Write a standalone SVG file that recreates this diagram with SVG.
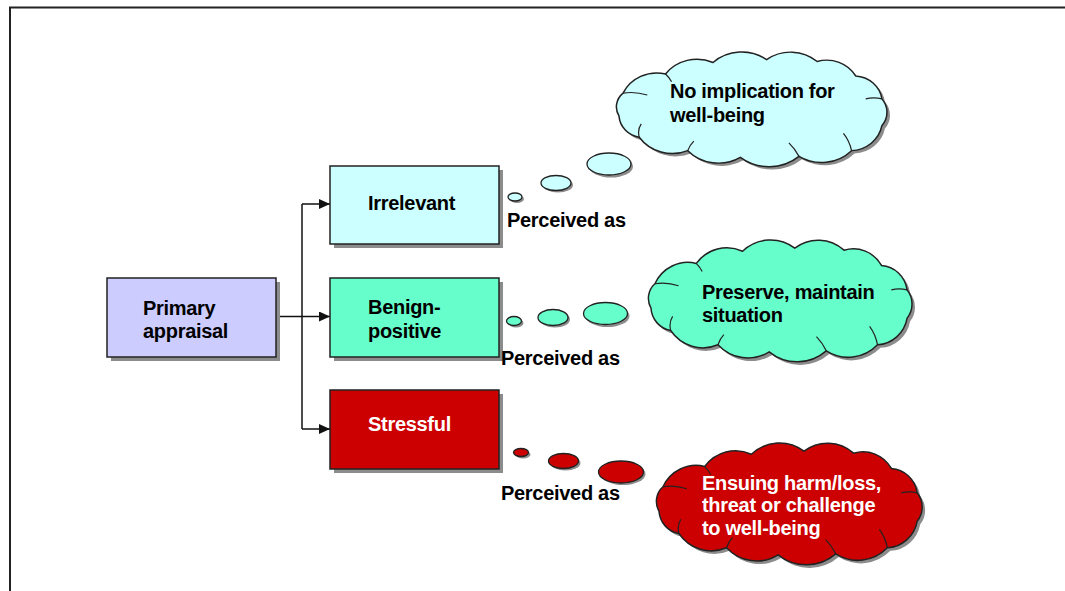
<svg xmlns="http://www.w3.org/2000/svg" xmlns:xlink="http://www.w3.org/1999/xlink" width="1065" height="591" viewBox="0 0 1065 591">
  <style>
    .lbl { font-family: "Liberation Sans", Arial, sans-serif; font-weight: bold; font-size: 20px; letter-spacing: -0.3px; fill: #000; }
    .white { fill: #fff; }
    .box { stroke: #222; stroke-width: 1.5; }
    .shadow { fill: #8c8c8c; }
    .cloud { stroke: #222; stroke-width: 1.5; }
    .curl { fill: none; stroke: #222; stroke-width: 1.2; }
    .bub { stroke: #222; stroke-width: 1.3; }
    .conn { fill: none; stroke: #111; stroke-width: 1.5; }
    .lav { fill: #ccccff; }
    .cyan { fill: #ccffff; }
    .mint { fill: #66ffcc; }
    .red { fill: #cc0000; }
  </style>
  <defs>
    <marker id="arrow" markerUnits="userSpaceOnUse" markerWidth="12" markerHeight="10" refX="11" refY="5" orient="auto">
      <path d="M0,0 L11,5 L0,10 Z" fill="#111"/>
    </marker>
    <!-- cloud outline in a local ~269x120 box -->
    <path id="cloudShape" d="M6,44 A37,37 0 0 1 48,24 A39,39 0 0 1 95,12 A42,42 0 0 1 148,9 A40,40 0 0 1 198,11 A33,33 0 0 1 236,26 A28,28 0 0 1 262,50 A22,22 0 0 1 262,78 A32,32 0 0 1 232,104 A42,42 0 0 1 180,110 A46,46 0 0 1 122,111 A42,42 0 0 1 70,104 A40,40 0 0 1 22,90 A24,24 0 0 1 2,68 A19,19 0 0 1 6,44 Z"/>
    <path id="cloudCurls" d="M6,44 Q18,42 30,46 M48,24 Q52,28 54,32 M262,50 Q254,48 246,50 M232,104 Q230,94 224,86 M180,110 Q176,102 170,96 M70,104 Q72,98 76,94 M22,90 Q20,82 24,76"/>
  </defs>

  <!-- page frame -->
  <path d="M10,591 V7.5 H1065" fill="none" stroke="#222" stroke-width="2"/>

  <!-- connectors -->
  <g id="connectors">
    <path class="conn" d="M276,316.5 H330" marker-end="url(#arrow)"/>
    <path class="conn" d="M302,204 V429"/>
    <path class="conn" d="M302,204 H330" marker-end="url(#arrow)"/>
    <path class="conn" d="M302,429 H330" marker-end="url(#arrow)"/>
  </g>

  <g id="primary">
    <rect class="shadow" x="111" y="282" width="169" height="79"/>
    <rect class="box lav" x="107" y="278" width="169" height="79"/>
    <text class="lbl" x="143" y="315">Primary</text>
    <text class="lbl" x="143" y="338">appraisal</text>
  </g>

  <g id="irrelevant">
    <rect class="shadow" x="334" y="170" width="169" height="78"/>
    <rect class="box cyan" x="330" y="166" width="169" height="78"/>
    <text class="lbl" x="368" y="210">Irrelevant</text>
  </g>

  <g id="benign">
    <rect class="shadow" x="334" y="282" width="169" height="79"/>
    <rect class="box mint" x="330" y="278" width="169" height="79"/>
    <text class="lbl" x="368" y="314">Benign-</text>
    <text class="lbl" x="368" y="337.5">positive</text>
  </g>

  <g id="stressful">
    <rect class="shadow" x="334" y="394" width="169" height="79"/>
    <rect class="box red" x="330" y="390" width="169" height="79"/>
    <text class="lbl white" x="368" y="431">Stressful</text>
  </g>

  <!-- thought: irrelevant -->
  <g id="thought-irrelevant">
    <ellipse class="shadow" cx="517" cy="199" rx="7" ry="4"/>
    <ellipse class="bub cyan" cx="515" cy="197" rx="7" ry="4"/>
    <ellipse class="shadow" cx="558" cy="185" rx="15" ry="7.5"/>
    <ellipse class="bub cyan" cx="556" cy="183" rx="15" ry="7.5"/>
    <ellipse class="shadow" cx="611" cy="166.5" rx="22" ry="11"/>
    <ellipse class="bub cyan" cx="609" cy="164" rx="22" ry="11"/>
    <g transform="translate(617,51) scale(1.011,0.958)">
      <use xlink:href="#cloudShape" class="shadow" transform="translate(3,3)"/>
      <use xlink:href="#cloudShape" class="cloud cyan"/>
      <use xlink:href="#cloudCurls" class="curl"/>
    </g>
    <text class="lbl" x="670" y="98">No implication for</text>
    <text class="lbl" x="670" y="121.5">well-being</text>
    <text class="lbl" x="507" y="227">Perceived as</text>
  </g>

  <!-- thought: benign-positive -->
  <g id="thought-benign">
    <ellipse class="shadow" cx="516" cy="323" rx="7.5" ry="4.5"/>
    <ellipse class="bub mint" cx="514" cy="321" rx="7.5" ry="4.5"/>
    <ellipse class="shadow" cx="555" cy="319.5" rx="15" ry="8"/>
    <ellipse class="bub mint" cx="553" cy="317.5" rx="15" ry="8"/>
    <ellipse class="shadow" cx="607.5" cy="316" rx="22" ry="11"/>
    <ellipse class="bub mint" cx="605.5" cy="313.5" rx="22" ry="11"/>
    <g transform="translate(649,239) scale(0.985,1.017)">
      <use xlink:href="#cloudShape" class="shadow" transform="translate(3,3)"/>
      <use xlink:href="#cloudShape" class="cloud mint"/>
      <use xlink:href="#cloudCurls" class="curl"/>
    </g>
    <text class="lbl" x="702" y="299">Preserve, maintain</text>
    <text class="lbl" x="702" y="322">situation</text>
    <text class="lbl" x="501" y="365">Perceived as</text>
  </g>

  <!-- thought: stressful -->
  <g id="thought-stressful">
    <ellipse class="shadow" cx="523" cy="454.5" rx="7.5" ry="4"/>
    <ellipse class="bub red" cx="521" cy="452.5" rx="7.5" ry="4"/>
    <ellipse class="shadow" cx="565.5" cy="463" rx="15" ry="7.5"/>
    <ellipse class="bub red" cx="563.5" cy="461" rx="15" ry="7.5"/>
    <ellipse class="shadow" cx="623" cy="474" rx="22.5" ry="11"/>
    <ellipse class="bub red" cx="621" cy="472" rx="22.5" ry="11"/>
    <g transform="translate(657,442) scale(0.993,1.017)">
      <use xlink:href="#cloudShape" class="shadow" transform="translate(3,3)"/>
      <use xlink:href="#cloudShape" class="cloud red"/>
      <use xlink:href="#cloudCurls" class="curl"/>
    </g>
    <text class="lbl white" x="702" y="489.5">Ensuing harm/loss,</text>
    <text class="lbl white" x="702" y="512">threat or challenge</text>
    <text class="lbl white" x="702" y="535">to well-being</text>
    <text class="lbl" x="501" y="500">Perceived as</text>
  </g>
</svg>
